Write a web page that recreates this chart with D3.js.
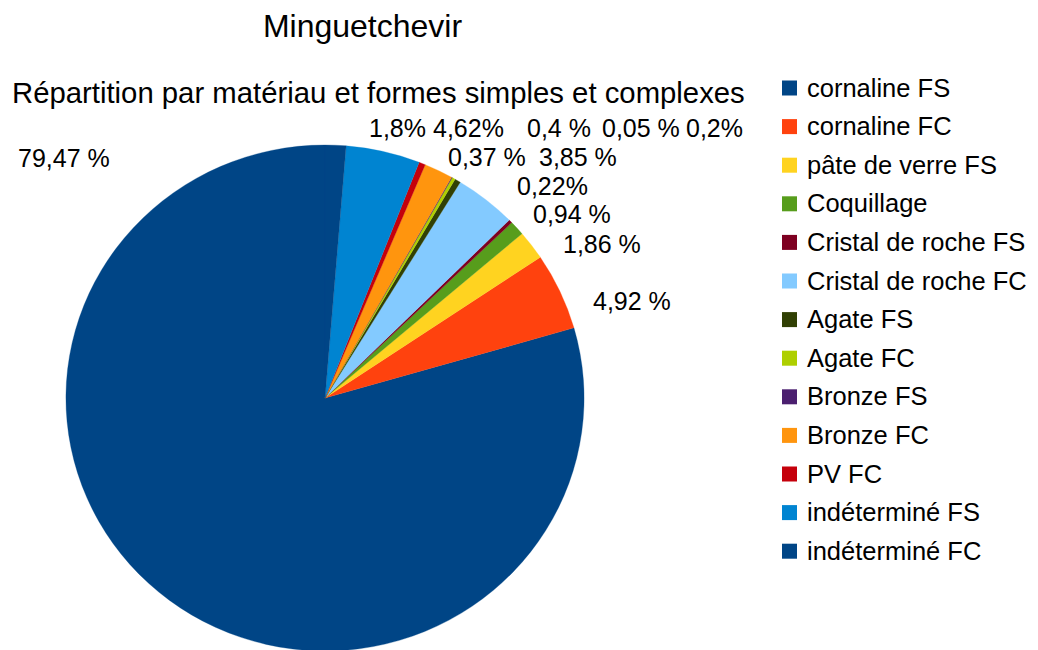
<!DOCTYPE html>
<html>
<head>
<meta charset="utf-8">
<script src="https://cdn.jsdelivr.net/npm/d3@7"></script>
<style>
  html, body { margin: 0; padding: 0; background: #fff; }
  svg { display: block; font-family: "Liberation Sans", Arial, sans-serif; }
</style>
</head>
<body>
<svg id="chart" width="1038" height="650"></svg>
<script>
// data
const categories = [
  "cornaline FS", "cornaline FC", "pâte de verre FS", "Coquillage",
  "Cristal de roche FS", "Cristal de roche FC", "Agate FS", "Agate FC",
  "Bronze FS", "Bronze FC", "PV FC", "indéterminé FS", "indéterminé FC"
];
const values = [79.47, 4.92, 1.86, 0.94, 0.22, 3.85, 0.37, 0.2, 0.05, 1.8, 0.4, 4.62, 1.3];
const valueLabels = [
  "79,47 %", "4,92 %", "1,86 %", "0,94 %", "0,22%", "3,85 %", "0,37 %",
  "0,2%", "0,05 %", "1,8%", "0,4 %", "4,62%", null
];
const colors = [
  "#004586", "#ff420e", "#ffd320", "#579d1c", "#7e0021", "#83caff", "#314004",
  "#aecf00", "#4b1f6f", "#ff950e", "#c5000b", "#0084d1", "#004586"
];

// where the value labels sit (left x, baseline y), as placed by the original
const labelSpots = [
  [18, 167], [593, 310], [563, 253], [533, 223], [517, 195], [539, 166], [448, 166],
  [686, 137], [602, 137], [369, 137], [527, 137], [433, 137], null
];

const svg = d3.select("#chart");
const cx = 325, cy = 398, radius = 253, stretchX = 1.024;

svg.append("rect").attr("width", 1038).attr("height", 650).attr("fill", "#fff");

svg.append("text")
  .attr("x", 362.5).attr("y", 37)
  .attr("text-anchor", "middle")
  .attr("font-size", 32)
  .text("Minguetchevir");

svg.append("text")
  .attr("x", 12).attr("y", 103)
  .attr("font-size", 29.3)
  .text("Répartition par matériau et formes simples et complexes");

// slices run counter-clockwise from 12 o'clock
const pie = d3.pie().sort(null).startAngle(0).endAngle(-2 * Math.PI);
const arc = d3.arc().innerRadius(0).outerRadius(radius);
const arcs = pie(values);

svg.append("g")
  .attr("transform", `translate(${cx},${cy}) scale(${stretchX},1)`)
  .selectAll("path")
  .data(arcs)
  .join("path")
  .attr("d", arc)
  .attr("fill", (d, i) => colors[i])
  .attr("stroke", (d, i) => colors[i])
  .attr("stroke-width", 0.3);

svg.append("g")
  .selectAll("text")
  .data(arcs.filter((d, i) => valueLabels[i]))
  .join("text")
  .attr("x", (d) => labelSpots[d.index][0])
  .attr("y", (d) => labelSpots[d.index][1])
  .attr("font-size", 25)
  .attr("fill", "#000")
  .text((d) => valueLabels[d.index]);

const legend = svg.append("g")
  .selectAll("g")
  .data(categories)
  .join("g")
  .attr("transform", (d, i) => `translate(782,${88 + i * 38.6})`);

legend.append("rect")
  .attr("x", 0).attr("y", -7.5)
  .attr("width", 15).attr("height", 15)
  .attr("fill", (d, i) => colors[i]);

legend.append("text")
  .attr("x", 25).attr("y", 8.5)
  .attr("font-size", 25.5)
  .text((d) => d);
</script>
</body>
</html>
